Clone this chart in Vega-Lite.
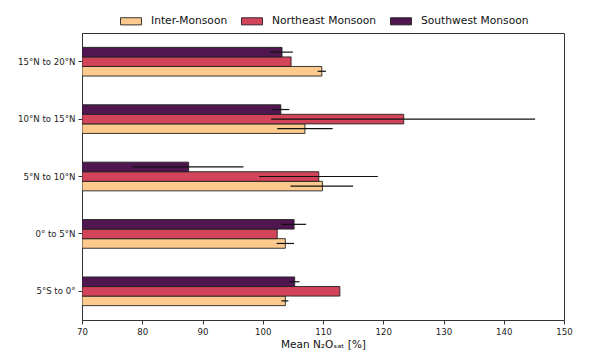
{
  "$schema": "https://vega.github.io/schema/vega-lite/v6.json",
  "width": 482,
  "height": 287,
  "autosize": {"type": "none"},
  "padding": {"left": 82, "top": 33, "right": 37, "bottom": 39},
  "background": "white",
  "config": {
    "font": "DejaVu Sans",
    "view": {"stroke": "#333333", "strokeWidth": 1},
    "axis": {"grid": false, "domainColor": "#333333", "tickColor": "#333333", "labelColor": "#222222", "labelFontSize": 8.6, "tickSize": 4, "labelPadding": 3, "labelFlush": false}
  },
  "data": {
    "values": [
      {"region": "15°N to 20°N", "season": "Inter-Monsoon", "mean": 109.8, "lo": 109.1, "hi": 110.5},
      {"region": "15°N to 20°N", "season": "Northeast Monsoon", "mean": 104.7, "lo": 104.7, "hi": 104.7},
      {"region": "15°N to 20°N", "season": "Southwest Monsoon", "mean": 103.2, "lo": 101.2, "hi": 105.0},
      {"region": "10°N to 15°N", "season": "Inter-Monsoon", "mean": 107.0, "lo": 102.4, "hi": 111.6},
      {"region": "10°N to 15°N", "season": "Northeast Monsoon", "mean": 123.4, "lo": 101.4, "hi": 145.2},
      {"region": "10°N to 15°N", "season": "Southwest Monsoon", "mean": 103.0, "lo": 101.5, "hi": 104.4},
      {"region": "5°N to 10°N", "season": "Inter-Monsoon", "mean": 109.9, "lo": 104.6, "hi": 115.0},
      {"region": "5°N to 10°N", "season": "Northeast Monsoon", "mean": 109.3, "lo": 99.4, "hi": 119.1},
      {"region": "5°N to 10°N", "season": "Southwest Monsoon", "mean": 87.7, "lo": 78.4, "hi": 96.8},
      {"region": "0° to 5°N", "season": "Inter-Monsoon", "mean": 103.75, "lo": 102.3, "hi": 105.2},
      {"region": "0° to 5°N", "season": "Northeast Monsoon", "mean": 102.4, "lo": 102.4, "hi": 102.4},
      {"region": "0° to 5°N", "season": "Southwest Monsoon", "mean": 105.2, "lo": 103.1, "hi": 107.2},
      {"region": "5°S to 0°", "season": "Inter-Monsoon", "mean": 103.75, "lo": 103.1, "hi": 104.25},
      {"region": "5°S to 0°", "season": "Northeast Monsoon", "mean": 112.8, "lo": 112.8, "hi": 112.8},
      {"region": "5°S to 0°", "season": "Southwest Monsoon", "mean": 105.3, "lo": 104.4, "hi": 106.1}
    ]
  },
  "encoding": {
    "y": {
      "field": "region", "type": "nominal", "title": null,
      "sort": ["15°N to 20°N", "10°N to 15°N", "5°N to 10°N", "0° to 5°N", "5°S to 0°"],
      "scale": {"paddingInner": 0.5, "paddingOuter": 0.25}
    },
    "yOffset": {
      "field": "season", "type": "nominal",
      "scale": {"domain": ["Southwest Monsoon", "Northeast Monsoon", "Inter-Monsoon"]}
    }
  },
  "layer": [
    {
      "mark": {"type": "bar", "stroke": "#222222", "strokeWidth": 0.9, "clip": true},
      "encoding": {
        "x": {
          "field": "mean", "type": "quantitative",
          "scale": {"domain": [70, 150], "zero": false, "nice": false},
          "axis": {"values": [70, 80, 90, 100, 110, 120, 130, 140, 150], "title": "Mean N₂Oₛₐₜ [%]", "titleFontSize": 10.5, "titleFontWeight": "normal", "titleColor": "#111111", "titlePadding": 4},
          "title": "Mean N₂Oₛₐₜ [%]"
        },
        "x2": {"datum": 70},
        "color": {
          "field": "season", "type": "nominal",
          "scale": {"domain": ["Inter-Monsoon", "Northeast Monsoon", "Southwest Monsoon"], "range": ["#fdca8d", "#d1445a", "#4f1650"]},
          "legend": {
            "title": null, "orient": "none", "legendX": 38, "legendY": -23,
            "direction": "horizontal", "columns": 3, "columnPadding": 11,
            "symbolType": "M-1,-0.34H1V0.34H-1Z", "symbolSize": 441,
            "symbolStrokeColor": "#222222", "symbolStrokeWidth": 0.9,
            "labelFontSize": 10.7, "labelOffset": 9, "labelColor": "#111111", "labelLimit": 200
          }
        }
      }
    },
    {
      "mark": {"type": "rule", "color": "#111111", "strokeWidth": 1.2, "clip": true},
      "encoding": {
        "x": {"field": "lo", "type": "quantitative"},
        "x2": {"field": "hi"}
      }
    }
  ]
}
